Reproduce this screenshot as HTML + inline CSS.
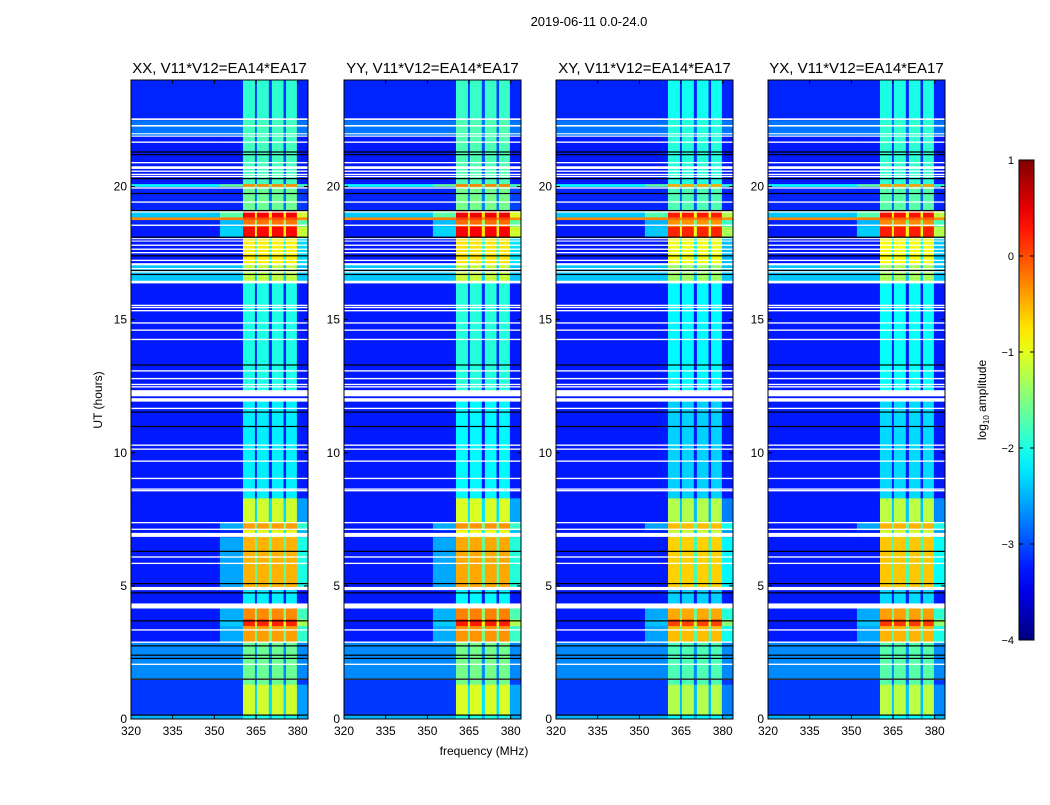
<!DOCTYPE html>
<html><head><meta charset="utf-8"><style>
body{margin:0;background:#fff;}
svg text{font-family:"Liberation Sans",sans-serif;fill:#000;}
</style></head><body>
<svg id="fig" width="1050" height="800" xmlns="http://www.w3.org/2000/svg">
<rect width="1050" height="800" fill="#fff"/>
<text x="589" y="26" font-size="13" text-anchor="middle">2019-06-11 0.0-24.0</text>
<text x="484" y="755" font-size="12" text-anchor="middle">frequency (MHz)</text>
<text transform="translate(102,400) rotate(-90)" font-size="12" text-anchor="middle">UT (hours)</text>
<g id="panels"></g>
<g id="cbar"></g>
</svg>
<script>
// ---- data ----
const panelTitles = ["XX, V11*V12=EA14*EA17","YY, V11*V12=EA14*EA17","XY, V11*V12=EA14*EA17","YX, V11*V12=EA14*EA17"];
const panelOffsets = [0, 0.05, -0.15, -0.1];
// time segments: start hour, end hour
const segStart = [0,0.15,1.3,1.5,2.9,3.5,3.75,4.34,4.96,6.84,7.1,7.4,8.3,11.5,12.35,16.4,17.1,18.1,18.5,18.75,18.85,19.1,20.0,20.1,21.9,22.5];
const segEnd   = [0.15,1.3,1.5,2.9,3.5,3.75,4.15,4.84,6.84,7.1,7.4,8.3,11.5,12.0,16.4,17.1,18.1,18.5,18.75,18.85,19.1,20.0,20.1,21.9,22.5,24];
// background level (log10 amplitude) per segment
const segBg    = [-2.5,-3.1,-3.1,-2.7,-3.25,-3.25,-3.25,-3.25,-3.25,-3.25,-3.25,-3.25,-3.25,-3.25,-3.25,-2.4,-3.25,-3.25,-3.2,-0.3,-2.4,-3.2,-2.1,-3.25,-2.8,-3.2];
// band level per segment
const segBand  = [-2.0,-1.1,-1.6,-1.6,-0.4,0.2,-0.3,-2.2,-0.5,-1.0,-0.4,-1.1,-2.2,-2.2,-2.0,-1.2,-0.8,0.35,-0.2,0.0,0.4,-1.6,-0.3,-1.8,-1.8,-1.9];
// frequency columns (MHz) and type
const colStart = [320,352,360.3,364.6,365.3,369.6,370.7,374.9,375.8,379.7];
const colEnd   = [352,360.3,364.6,365.3,369.6,370.7,374.9,375.8,379.7,383.7];
const colType  = ["bg","halo","band","gap","band","gap","band","gap","band","edge"];
// flagged (white) intervals, hours
const flagStart = [22.5,22.25,21.96,21.87,21.64,20.87,20.66,20.55,20.43,20.35,19.92,19.39,19.02,18.52,18.02,17.93,17.77,17.62,17.49,17.2,17.04,16.89,16.77,16.36,15.51,15.43,15.31,14.85,14.58,14.23,13.05,12.76,12.54,12.45,12.12,11.92,11.64,10.26,10.11,9.66,9.01,8.61,8.55,7.35,7.1,6.84,6.06,5.82,4.84,4.15,3.32,2.86,2.03,1.47];
const flagEnd   = [22.56,22.31,22.0,21.91,21.69,20.92,20.76,20.6,20.48,20.4,19.97,19.44,19.07,18.57,18.06,17.97,17.82,17.67,17.54,17.25,17.12,16.94,16.82,16.46,15.56,15.48,15.36,14.9,14.63,14.28,13.1,12.81,12.59,12.5,12.35,12.05,11.69,10.31,10.16,9.71,9.06,8.66,8.6,7.4,7.15,6.99,6.11,5.87,4.96,4.34,3.37,2.91,2.08,1.52];
// black (dead) lines, hours
const blackLines = [21.3,21.2,20.3,19.74,19.1,18.1,17.4,16.85,16.7,13.3,11.53,10.99,6.3,5.09,4.74,3.69,2.75,2.4,2.28,1.5,0.15];
const xTicks = [320,335,350,365,380];
const yTicks = [0,5,10,15,20];
const cbTicks = [1,0,-1,-2,-3,-4];

// ---- layout ----
const panelX = [131,344,556,768], panelW = 177, plotTop = 80, plotBottom = 719;
const fMin = 320, fMax = 383.7, tMin = 0, tMax = 24, vMin = -4, vMax = 1;
const NS = "http://www.w3.org/2000/svg";
function el(tag, attrs, parent){const e=document.createElementNS(NS,tag);for(const k in attrs)e.setAttribute(k,attrs[k]);parent.appendChild(e);return e;}
function jet(v){let t=Math.max(0,Math.min(1,(v-vMin)/(vMax-vMin)));
  const c=x=>Math.max(0,Math.min(1,x));
  const r=c(Math.min(4*t-1.5,-4*t+4.5)), g=c(Math.min(4*t-0.5,-4*t+3.5)), b=c(Math.min(4*t+0.5,-4*t+2.5));
  return `rgb(${Math.round(r*255)},${Math.round(g*255)},${Math.round(b*255)})`;}
function cellLevel(type,bg,band){
  if(type==="bg")return bg;
  if(type==="band")return band;
  if(type==="gap")return Math.max(bg,band-1.2);
  if(type==="halo")return band>-0.6?bg+0.25*(band-bg):bg;
  return Math.max(bg,band-1.5);}
const panels=document.getElementById('panels');
panelX.forEach((px,pi)=>{
  const xs=f=>px+(f-fMin)/(fMax-fMin)*panelW;
  const ys=h=>plotBottom-(h-tMin)/(tMax-tMin)*(plotBottom-plotTop);
  const g=el('g',{},panels);
  
  
  el('rect',{x:px,y:plotTop,width:panelW,height:plotBottom-plotTop,fill:jet(-3.25)},g);
  const hm=el('g',{},g);
  
  
  for(let s=0;s<segStart.length;s++){
    for(let c=0;c<colStart.length;c++){
      const v=cellLevel(colType[c],segBg[s],segBand[s]+(colType[c]==="bg"?0:panelOffsets[pi]));
      const x0=xs(colStart[c]),x1=xs(colEnd[c]),y0=ys(segEnd[s]),y1=ys(segStart[s]);
      const r=el('rect',{x:x0,y:y0,width:x1-x0+0.3,height:y1-y0+0.3,fill:jet(v)},hm);
      
      
    }
  }
  for(let i=0;i<flagStart.length;i++){
    const r=el('rect',{x:px,y:ys(flagEnd[i]),width:panelW,height:Math.max(1,ys(flagStart[i])-ys(flagEnd[i])),fill:'#fff'},g);
    
    
  }
  blackLines.forEach(h=>{
    const r=el('rect',{x:px,y:ys(h)-0.5,width:panelW,height:1.2,fill:'#000'},g);
    
    
  });
  el('rect',{x:px,y:plotTop,width:panelW,height:plotBottom-plotTop,fill:'none',stroke:'#000','stroke-width':1},g);
  const t=el('text',{x:px+panelW/2,y:plotTop-7,'font-size':15,'text-anchor':'middle'},g);
  t.textContent=panelTitles[pi];
  
  
  xTicks.forEach(f=>{
    const x=xs(f);
    el('line',{x1:x,y1:plotBottom,x2:x,y2:plotBottom-4,stroke:'#000'},g);
    el('line',{x1:x,y1:plotTop,x2:x,y2:plotTop+4,stroke:'#000'},g);
    const tx=el('text',{x:x,y:plotBottom+16,'font-size':12,'text-anchor':'middle'},g);
    tx.textContent=f;
    
    
  });
  yTicks.forEach(h=>{
    const y=ys(h);
    el('line',{x1:px,y1:y,x2:px+4,y2:y,stroke:'#000'},g);
    el('line',{x1:px+panelW,y1:y,x2:px+panelW-4,y2:y,stroke:'#000'},g);
    const ty=el('text',{x:px-4,y:y+4,'font-size':12,'text-anchor':'end'},g);
    ty.textContent=h;
    
    
  });
});
// colorbar
const cb=document.getElementById('cbar');
const cbX=1019,cbW=15,cbTop=160,cbBot=640;
const defs=el('defs',{},cb);
const lg=el('linearGradient',{id:'jetg',x1:0,y1:1,x2:0,y2:0},defs);
for(let i=0;i<=20;i++){el('stop',{offset:i/20,'stop-color':jet(vMin+(vMax-vMin)*i/20)},lg);}
el('rect',{x:cbX,y:cbTop,width:cbW,height:cbBot-cbTop,fill:'url(#jetg)',stroke:'#000'},cb);
cbTicks.forEach(v=>{
  const y=cbBot-(v-vMin)/(vMax-vMin)*(cbBot-cbTop);
  el('line',{x1:cbX,y1:y,x2:cbX+4,y2:y,stroke:'#000'},cb);
  el('line',{x1:cbX+cbW,y1:y,x2:cbX+cbW-4,y2:y,stroke:'#000'},cb);
  const t=el('text',{x:cbX-5,y:y+4,'font-size':11,'text-anchor':'end'},cb);
  t.textContent=v<0?'\u2212'+(-v):String(v);
  
  
});
const cl=el('text',{transform:'translate(986,400) rotate(-90)','font-size':12,'text-anchor':'middle'},cb);
cl.innerHTML='log<tspan font-size="8" dy="3">10</tspan><tspan dy="-3"> amplitude</tspan>';


</script>
</body></html>
